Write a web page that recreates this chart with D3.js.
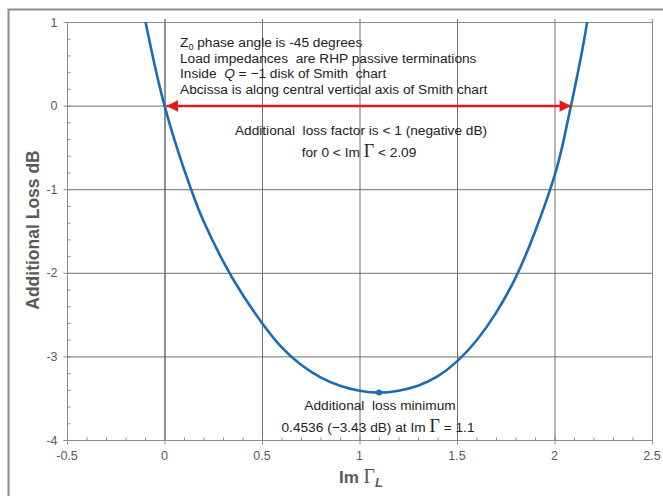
<!DOCTYPE html>
<html>
<head>
<meta charset="utf-8">
<script src="https://cdn.jsdelivr.net/npm/d3@7/dist/d3.min.js"></script>
<style>
  body { margin: 0; background: #fff; }
  text { font-family: "Liberation Sans", Arial, sans-serif; white-space: pre; }
</style>
</head>
<body>
<svg id="chart"></svg>
<script>
// values
const imGamma = [-0.1, -0.05, 0, 0.05, 0.1, 0.15, 0.2, 0.3, 0.4, 0.5, 0.6, 0.7, 0.8, 0.9, 1.0,
  1.1, 1.2, 1.3, 1.4, 1.5, 1.6, 1.7, 1.8, 1.9, 2.0, 2.05, 2.1, 2.15, 2.2];
const lossDb = [1.03, 0.48, 0, -0.40, -0.76, -1.09, -1.38, -1.86, -2.26, -2.6, -2.89, -3.1, -3.25, -3.35, -3.41,
  -3.433, -3.41, -3.35, -3.24, -3.06, -2.81, -2.48, -2.06, -1.51, -0.84, -0.38, 0.17, 0.76, 1.47];
const xTicks = [-0.5, 0, 0.5, 1, 1.5, 2, 2.5];
const yTicks = [-4, -3, -2, -1, 0, 1];
const minPoint = [1.1, -3.433];
const lossBand = [0, 2.09];
const noteLines = ["phase angle is -45 degrees", "Load impedances  are RHP passive terminations",
  "Inside", "Abcissa is along central vertical axis of Smith chart"];

const W = 663, H = 496;
const svg = d3.select("#chart").attr("width", W).attr("height", H);

var x = d3.scaleLinear().domain([-0.5, 2.5]).range([67, 652]);
var y = d3.scaleLinear().domain([-4, 1]).range([440, 22]);

// outer frame
svg.append("path")
  .attr("d", "M8.5," + H + "V9.5H" + W)
  .attr("fill", "none").attr("stroke", "#8c8c8c").attr("stroke-width", 2);

svg.append("defs").append("clipPath").attr("id", "clip")
  .append("rect").attr("x", x(-0.5)).attr("y", y(1)).attr("width", x(2.5) - x(-0.5)).attr("height", y(-4) - y(1));

// grid
var grid = svg.append("g");
grid.selectAll("line.v").data(xTicks.slice(1)).enter().append("line")
  .attr("x1", d => x(d) + 0.5).attr("x2", d => x(d) + 0.5)
  .attr("y1", y(1) - 3).attr("y2", y(-4))
  .attr("stroke", d => d === 0 ? "#222" : (d === 2.5 ? "#8c8c8c" : "#6e6e6e")).attr("stroke-width", 1);
grid.selectAll("line.h").data(yTicks.slice(1)).enter().append("line")
  .attr("x1", x(-0.5)).attr("x2", x(2.5))
  .attr("y1", d => y(d) + 0.5).attr("y2", d => y(d) + 0.5)
  .attr("stroke", d => d === 1 ? "#8c8c8c" : "#6e6e6e").attr("stroke-width", 1);

// axes
var minorX = d3.range(-5, 26).map(i => i / 10);
var minorY = d3.range(-20, 6).map(i => i / 5);

var xAxis = svg.append("g").attr("transform", "translate(0," + (y(-4) + 0.5) + ")");
xAxis.append("line").attr("x1", x(-0.5)).attr("x2", x(2.5)).attr("stroke", "#8c8c8c");
xAxis.selectAll("line.mn").data(minorX).enter().append("line")
  .attr("x1", d => x(d) + 0.5).attr("x2", d => x(d) + 0.5).attr("y1", 0).attr("y2", -3).attr("stroke", "#8c8c8c");
xAxis.selectAll("line.mj").data(xTicks).enter().append("line")
  .attr("x1", d => x(d) + 0.5).attr("x2", d => x(d) + 0.5).attr("y1", -3).attr("y2", 4).attr("stroke", "#8c8c8c");
xAxis.selectAll("text").data(xTicks).enter().append("text")
  .attr("x", d => x(d)).attr("y", 19).attr("text-anchor", "middle")
  .attr("font-size", 12.5).attr("fill", "#595959").text(d => d);

var yAxis = svg.append("g").attr("transform", "translate(" + (x(-0.5) + 0.5) + ",0)");
yAxis.append("line").attr("y1", y(1)).attr("y2", y(-4)).attr("stroke", "#8c8c8c");
yAxis.selectAll("line.mn").data(minorY).enter().append("line")
  .attr("y1", d => y(d) + 0.5).attr("y2", d => y(d) + 0.5).attr("x1", 0).attr("x2", 3).attr("stroke", "#8c8c8c");
yAxis.selectAll("line.mj").data(yTicks).enter().append("line")
  .attr("y1", d => y(d) + 0.5).attr("y2", d => y(d) + 0.5).attr("x1", -4).attr("x2", 0).attr("stroke", "#8c8c8c");
yAxis.selectAll("text").data(yTicks).enter().append("text")
  .attr("x", -10).attr("y", d => y(d) + 4.5).attr("text-anchor", "end")
  .attr("font-size", 12.5).attr("fill", "#595959").text(d => d);

// curve
var pts = imGamma.map((v, i) => [v, lossDb[i]]);
svg.append("path").datum(pts)
  .attr("clip-path", "url(#clip)")
  .attr("fill", "none").attr("stroke", "#1b6cb2").attr("stroke-width", 2.6)
  .attr("d", d3.line().x(d => x(d[0])).y(d => y(d[1])).curve(d3.curveNatural));

svg.append("circle").attr("cx", x(minPoint[0])).attr("cy", y(minPoint[1])).attr("r", 3).attr("fill", "#1b6cb2");

// red double arrow
var mk = svg.select("defs").append("marker").attr("id", "ah")
  .attr("viewBox", "0 0 10 10").attr("refX", 10).attr("refY", 5)
  .attr("markerWidth", 5).attr("markerHeight", 4.6).attr("markerUnits", "strokeWidth")
  .attr("orient", "auto-start-reverse");
mk.append("path").attr("d", "M0,0L10,5L0,10Z").attr("fill", "#e3191c");
svg.append("line")
  .attr("x1", x(lossBand[0]) + 2).attr("x2", x(lossBand[1]) - 1)
  .attr("y1", y(0) + 0.5).attr("y2", y(0) + 0.5)
  .attr("stroke", "#e3191c").attr("stroke-width", 2.5)
  .attr("marker-start", "url(#ah)").attr("marker-end", "url(#ah)");

// notes
var note = svg.append("g").attr("font-size", 13.7).attr("fill", "#222");
var t1 = note.append("text").attr("x", 180).attr("y", 47);
t1.append("tspan").text("Z");
t1.append("tspan").attr("font-size", 9).attr("dy", 3).text("0");
t1.append("tspan").attr("dy", -3).text(" " + noteLines[0]);
note.append("text").attr("x", 180).attr("y", 62.5).text(noteLines[1]);
var t3 = note.append("text").attr("x", 180).attr("y", 78);
t3.append("tspan").text(noteLines[2] + "  ");
t3.append("tspan").attr("font-style", "italic").text("Q");
t3.append("tspan").text(" = \u22121 disk of Smith  chart");
note.append("text").attr("x", 180).attr("y", 93.5).text(noteLines[3]);

note.append("text").attr("x", 361).attr("y", 135).attr("text-anchor", "middle")
  .text("Additional  loss factor is < 1 (negative dB)");
var t6 = note.append("text").attr("x", 359).attr("y", 157).attr("text-anchor", "middle");
t6.append("tspan").text("for 0 < Im ");
t6.append("tspan").attr("font-family", "Liberation Serif, Times New Roman, serif").attr("font-size", 18).text("\u0393");
t6.append("tspan").text(" < 2.09");

note.append("text").attr("x", 380).attr("y", 410).attr("text-anchor", "middle")
  .text("Additional  loss minimum");
var t8 = note.append("text").attr("x", 378).attr("y", 432).attr("text-anchor", "middle");
t8.append("tspan").text("0.4536 (\u22123.43 dB) at Im ");
t8.append("tspan").attr("font-family", "Liberation Serif, Times New Roman, serif").attr("font-size", 18).text("\u0393");
t8.append("tspan").text(" = 1.1");

// axis titles
var xt = svg.append("text").attr("x", 361).attr("y", 483).attr("text-anchor", "middle")
  .attr("fill", "#595959").attr("font-size", 17).attr("font-weight", "bold");
xt.append("tspan").text("Im ");
xt.append("tspan").attr("font-family", "Liberation Serif, Times New Roman, serif").attr("font-weight", "normal").attr("font-size", 20).text("\u0393");
xt.append("tspan").attr("font-style", "italic").attr("font-size", 13).attr("dy", 4).text("L");

svg.append("text").attr("transform", "translate(39,230) rotate(-90)")
  .attr("text-anchor", "middle").attr("fill", "#595959").attr("font-size", 17.5).attr("font-weight", "bold")
  .text("Additional Loss dB");
</script>
</body>
</html>
